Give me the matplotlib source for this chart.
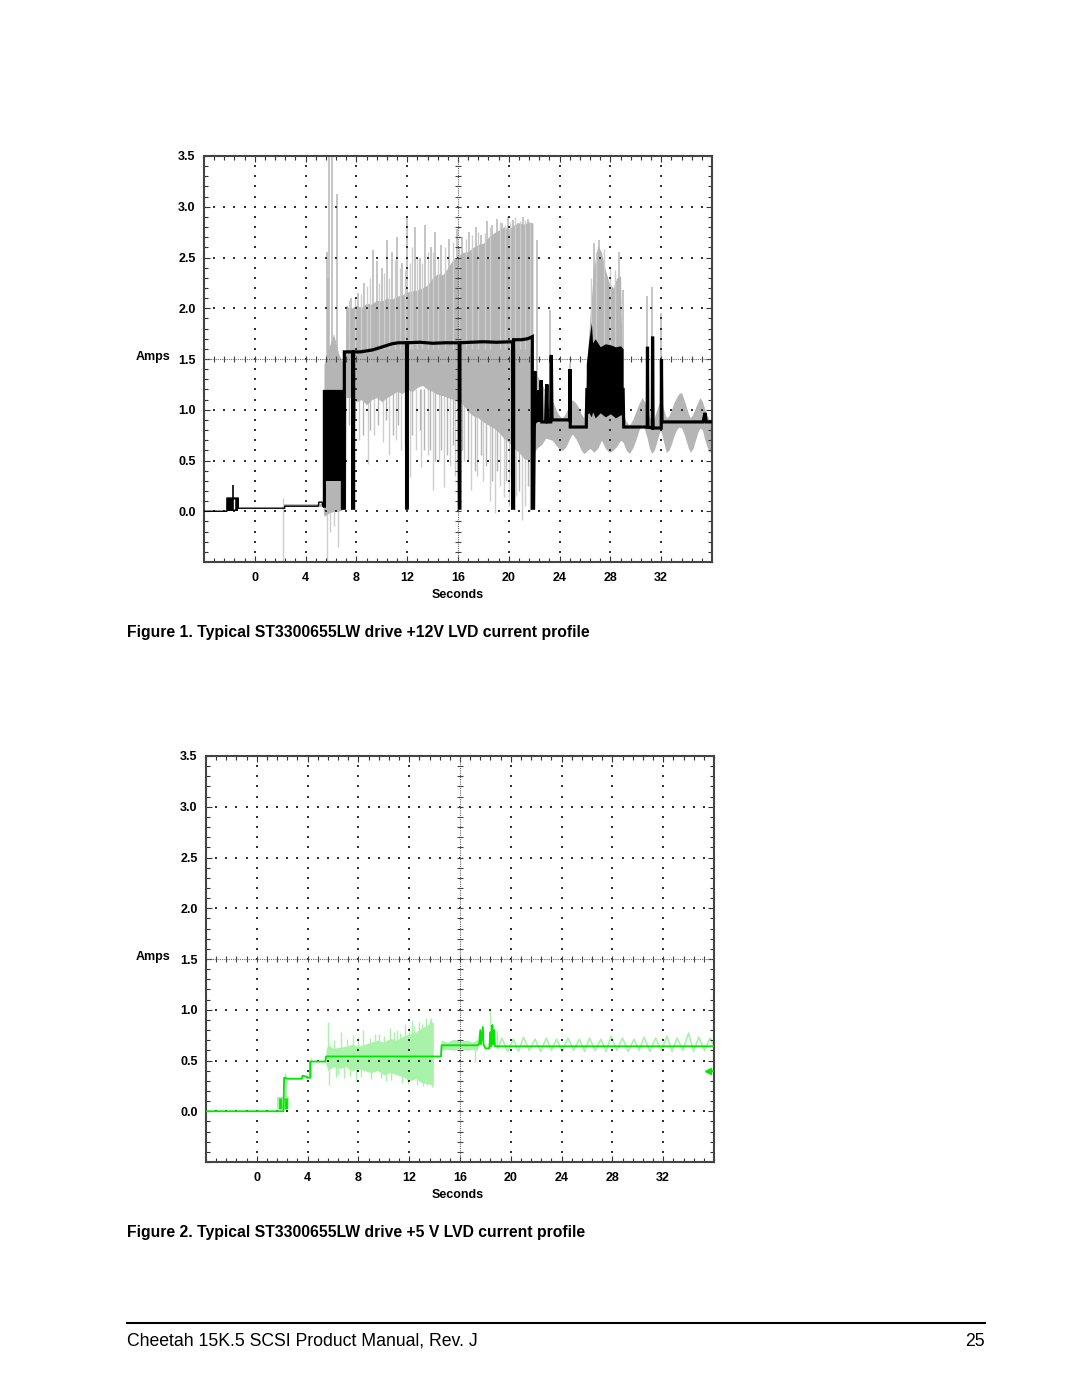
import numpy as np
import matplotlib
matplotlib.use('Agg')
import matplotlib.pyplot as plt
from matplotlib.lines import Line2D
from matplotlib.ticker import MultipleLocator

plt.rcParams['font.family'] = ['Liberation Sans', 'DejaVu Sans']

x_ticks = [0, 4, 8, 12, 16, 20, 24, 28, 32]
y_ticks = [0.0, 0.5, 1.0, 1.5, 2.0, 2.5, 3.0, 3.5]

# ---------- Figure 1: +12V current ----------
# gray noise envelope during spin-up
band_x = [5.40, 5.45, 5.8, 6.2, 6.6, 7.0, 7.15, 7.2, 7.6, 8.0, 8.4, 8.8, 9.2, 9.6, 10.0,
          10.4, 10.8, 11.2, 11.6, 12.0, 12.4, 12.8, 13.2, 13.6, 14.0, 14.4, 14.8, 15.2,
          15.6, 16.0, 16.4, 16.8, 17.2, 17.6, 18.0, 18.4, 18.8, 19.2, 19.6, 20.0, 20.4,
          20.8, 21.2, 21.6, 21.9]
band_lo = [0.0, -0.05, -0.02, 0.0, 0.0, 0.02, 0.05, 1.12, 1.12, 1.08, 1.10, 1.05, 1.10,
           1.12, 1.08, 1.12, 1.15, 1.18, 1.16, 1.20, 1.18, 1.22, 1.24, 1.20, 1.18, 1.15,
           1.14, 1.12, 1.10, 1.08, 1.05, 0.98, 0.94, 0.92, 0.88, 0.85, 0.82, 0.78, 0.72,
           0.68, 0.62, 0.58, 0.52, 0.50, 0.50]
band_hi = [0.05, 1.45, 1.60, 1.75, 1.55, 1.45, 1.55, 2.02, 2.00, 2.03, 2.01, 2.05, 2.04,
           2.08, 2.07, 2.10, 2.09, 2.12, 2.13, 2.16, 2.17, 2.18, 2.20, 2.23, 2.30, 2.34,
           2.33, 2.40, 2.48, 2.52, 2.55, 2.56, 2.60, 2.63, 2.64, 2.70, 2.74, 2.77, 2.80,
           2.78, 2.82, 2.84, 2.83, 2.85, 2.84]

# gray envelope after spin-up (seek / oscillation)
tail_x = [21.9, 22.2, 22.6, 22.9, 23.4, 23.6, 23.8, 24.0, 24.2, 24.4, 24.6, 24.8, 25.0,
          25.25, 25.5, 25.7, 25.9, 26.05, 26.2, 26.4, 26.7, 27.0, 27.3, 27.6, 27.9, 28.2,
          28.5, 28.8, 29.0, 29.25, 29.5, 29.75, 30.0, 30.25, 30.5, 30.7, 30.9, 31.05,
          31.25, 31.45, 31.6, 31.8, 31.95, 32.2, 32.4, 32.6, 32.8, 33.0, 33.2, 33.4, 33.6,
          33.8, 34.0, 34.15, 34.3, 34.5, 34.7, 34.9, 35.05, 35.25, 35.4, 35.6, 35.8, 36.0]
tail_lo = [0.55, 0.62, 0.66, 0.72, 0.70, 0.67, 0.64, 0.61, 0.60, 0.62, 0.66, 0.72, 0.76,
           0.72, 0.66, 0.60, 0.57, 0.58, 0.60, 0.62, 0.58, 0.62, 0.70, 0.62, 0.58, 0.60,
           0.64, 0.70, 0.68, 0.60, 0.57, 0.62, 0.70, 0.80, 0.86, 0.80, 0.72, 0.63,
           0.57, 0.60, 0.66, 0.75, 0.80, 0.68, 0.58, 0.60, 0.66, 0.74, 0.80, 0.83, 0.82,
           0.76, 0.68, 0.62, 0.58, 0.62, 0.70, 0.78, 0.82, 0.80, 0.72, 0.64, 0.58, 0.60]
tail_hi = [1.40, 1.35, 1.25, 1.18, 1.10, 1.04, 0.98, 0.94, 0.92, 0.95, 1.00, 1.06, 1.10,
           1.07, 1.02, 0.96, 0.92, 1.20, 1.55, 1.95, 2.40, 2.62, 2.55, 2.38, 2.25, 2.20,
           2.30, 2.32, 0.95, 0.88, 0.85, 0.90, 0.98, 1.06, 1.12, 1.08, 1.02, 0.94,
           0.88, 0.92, 0.98, 1.05, 1.10, 1.00, 0.92, 0.94, 1.00, 1.07, 1.12, 1.16, 1.17,
           1.10, 1.02, 0.96, 0.92, 0.96, 1.02, 1.08, 1.12, 1.08, 1.02, 0.95, 0.90, 0.92]

# upward gray spikes
spk_x = [5.66, 5.84, 6.05, 6.45, 5.75, 7.25, 7.6, 8.1, 8.6, 9.33, 9.6, 10.0, 10.4, 10.8,
         11.2, 11.6, 12.0, 12.6, 13.0, 13.4, 13.9, 14.2, 14.7, 15.3, 15.9, 16.3, 16.9,
         17.4, 17.8, 18.3, 18.7, 19.1, 19.5, 19.9, 20.3, 20.7, 21.1, 21.5, 22.2, 23.25,
         24.8, 26.7, 27.1, 28.7, 29.0, 30.9, 31.3, 32.0]
spk_lo = [1.2, 1.2, 1.2, 1.2, 1.2, 1.4, 1.4, 1.4, 1.4, 1.4, 1.4, 1.4, 1.4, 1.4, 1.4, 1.4,
          1.4, 1.4, 1.4, 1.4, 1.4, 1.4, 1.4, 1.4, 1.4, 1.4, 1.4, 1.4, 1.4, 1.4, 1.4, 1.4,
          1.4, 1.4, 1.4, 1.4, 1.4, 1.4, 1.2, 1.0, 0.9, 2.0, 2.0, 2.0, 0.8, 0.85, 0.85, 0.85]
spk_hi = [2.55, 3.50, 3.49, 3.13, 2.30, 2.02, 2.10, 2.15, 2.25, 2.57, 2.47, 2.40, 2.67,
          2.55, 2.70, 2.45, 2.89, 2.80, 2.50, 2.82, 2.60, 2.75, 2.62, 2.68, 2.78, 2.70,
          2.75, 2.80, 2.72, 2.86, 2.82, 2.88, 2.84, 2.90, 2.87, 2.84, 2.90, 2.88, 2.67,
          1.98, 1.46, 2.64, 2.67, 2.55, 2.18, 2.12, 2.21, 1.95]

# finer upward spikes (texture on top edge)
fine_x = [7.4, 7.9, 8.35, 8.8, 9.1, 9.8, 10.2, 10.6, 11.0, 11.4, 11.8, 12.2, 12.4, 12.8,
          13.2, 13.6, 14.0, 14.4, 15.0, 15.6, 16.1, 16.6, 17.1, 17.6, 18.1, 18.5, 19.3,
          19.7, 20.1, 20.5, 20.9, 21.3, 21.7, 26.5, 26.9, 27.5, 28.0, 28.4]
fine_hi = [2.08, 2.10, 2.14, 2.22, 2.30, 2.25, 2.35, 2.30, 2.48, 2.40, 2.38, 2.45, 2.60,
           2.50, 2.45, 2.55, 2.55, 2.50, 2.60, 2.65, 2.60, 2.68, 2.72, 2.75, 2.74, 2.80,
           2.85, 2.82, 2.85, 2.90, 2.86, 2.87, 2.85, 2.30, 2.55, 2.58, 2.42, 2.38]

# downward light-gray spikes
dn_x = [5.7, 5.95, 6.25, 6.55, 8.2, 8.9, 9.4, 10.1, 10.6, 11.1, 11.5, 12.2, 12.7, 13.1,
        13.6, 14.0, 14.5, 14.9, 15.4, 15.8, 16.5, 17.0, 17.5, 18.0, 18.5, 18.9, 19.3,
        19.6, 20.0, 20.6, 21.0, 21.3, 21.7, 2.25]
dn_lo = [-0.50, -0.20, -0.15, -0.35, 0.70, 0.47, 0.75, 0.68, 0.55, 0.70, 0.60, 0.34, 0.60,
         0.44, 0.55, 0.21, 0.50, 0.24, 0.45, 0.35, 0.50, 0.21, 0.35, 0.30, 0.10, -0.02,
         0.25, 0.14, 0.05, 0.15, -0.09, 0.05, 0.00, -0.50]
dn_hi = [0.1, 0.1, 0.1, 0.1, 1.2, 1.2, 1.2, 1.2, 1.2, 1.2, 1.2, 1.2, 1.2, 1.2, 1.2, 1.2,
         1.2, 1.2, 1.2, 1.2, 1.1, 1.0, 1.0, 0.9, 0.9, 0.9, 0.8, 0.8, 0.7, 0.7, 0.6, 0.6,
         0.6, 0.13]

# medium-gray downward spikes (ragged lower edge)
dn2_x = [7.4, 7.9, 8.5, 9.1, 9.7, 10.3, 10.9, 11.3, 11.8, 12.4, 13.0, 13.3, 13.8, 14.2,
         14.7, 15.1, 15.6, 16.0, 16.3, 16.8, 17.3, 17.8, 18.2, 18.7, 19.1, 19.8, 20.2,
         20.8, 21.5]
dn2_lo = [0.85, 0.90, 0.75, 0.80, 0.85, 0.90, 0.75, 0.85, 0.65, 0.75, 0.80, 0.60, 0.60,
          0.50, 0.60, 0.55, 0.65, 0.40, 0.60, 0.50, 0.40, 0.55, 0.45, 0.30, 0.40, 0.30,
          0.35, 0.20, 0.25]

# black averaged trace: idle part (thin)
idle_x = [-4.0, -2.2, -2.2, -1.3, -1.3, 2.35, 2.35, 5.0, 5.05, 5.3, 5.35, 5.48]
idle_y = [0.0, 0.0, 0.13, 0.13, 0.03, 0.03, 0.05, 0.05, 0.09, 0.09, 0.05, 0.05]
idle_box = [-2.2, -1.3, 0.0, 0.13]

# black averaged trace: spin-up and seeks (thick)
trace_x = [5.48, 5.48, 6.9, 6.9, 7.05, 7.05, 7.7, 7.7, 7.78, 7.78, 8.3, 8.8, 9.3, 9.8,
           10.3, 10.8, 11.3, 11.95, 11.95, 12.0, 12.0, 13.0, 14.0, 15.0, 16.1, 16.1,
           16.15, 16.15, 17.0, 18.0, 19.0, 20.3, 20.3, 20.38, 20.38, 21.0, 21.5, 21.85,
           21.85, 21.95, 22.05, 22.1, 22.3, 22.35, 22.4, 22.55, 22.6, 22.9, 23.0, 23.05,
           23.3, 23.35, 23.4, 24.8, 24.82, 24.84, 26.1, 26.15, 29.0, 29.05, 30.9, 30.92,
           30.95, 31.3, 31.32, 31.36, 32.0, 32.02, 32.06, 35.3, 35.45, 35.55, 36.0]
trace_y = [0.05, 1.18, 1.18, 0.03, 0.03, 1.57, 1.57, 0.03, 0.03, 1.57, 1.57, 1.58, 1.59,
           1.61, 1.63, 1.65, 1.66, 1.66, 0.03, 0.03, 1.66, 1.665, 1.655, 1.66, 1.66, 0.03,
           0.03, 1.66, 1.665, 1.67, 1.665, 1.67, 0.03, 0.03, 1.69, 1.69, 1.70, 1.72,
           0.03, 0.03, 1.38, 0.88, 0.90, 1.19, 0.88, 1.29, 0.88, 0.88, 1.25, 0.88,
           0.88, 1.54, 0.90, 0.90, 1.40, 0.83, 0.83, 1.20, 1.20, 0.83, 0.83, 1.62,
           0.83, 0.82, 1.72, 0.82, 0.82, 1.50, 0.88, 0.88, 0.97, 0.88, 0.88]

# dense black bursts (filled)
burst1_x = [5.48, 6.9]
burst1_lo = [0.30, 0.30]
burst1_hi = [1.18, 1.18]
burst2_x = [26.1, 26.3, 26.5, 26.6, 26.8, 27.2, 27.6, 28.0, 28.4, 28.8, 29.0]
burst2_lo = [0.95, 0.97, 0.93, 0.98, 0.92, 0.97, 0.93, 0.96, 0.92, 0.95, 0.95]
burst2_hi = [1.45, 1.68, 1.86, 1.66, 1.70, 1.62, 1.65, 1.64, 1.62, 1.63, 1.60]

# ---------- Figure 2: +5V current ----------
g_x = [-4.0, 2.1, 2.15, 2.45, 3.55, 3.6, 3.95, 3.95, 4.2, 4.2, 5.4, 5.45, 14.5, 14.55,
       17.4, 17.5, 17.6, 17.65, 17.8, 17.85, 18.0, 18.3, 18.4, 18.45, 18.55, 18.6, 18.7,
       18.75, 19.0, 36.0]
g_y = [0.0, 0.0, 0.33, 0.32, 0.32, 0.35, 0.34, 0.33, 0.33, 0.49, 0.49, 0.54, 0.54, 0.65,
       0.65, 0.66, 0.80, 0.66, 0.83, 0.66, 0.62, 0.62, 0.78, 0.64, 0.85, 0.66, 0.80, 0.64,
       0.64, 0.64]
g_box = [1.57, 2.56, 0.02, 0.14]
g_box_bars = [1.85, 2.3]

lg_x = [5.45, 5.6, 6.0, 6.5, 7.0, 7.5, 8.0, 8.5, 9.0, 9.5, 10.0, 10.5, 11.0, 11.5, 12.0,
        12.5, 13.0, 13.5, 13.9]
lg_lo = [0.46, 0.40, 0.44, 0.42, 0.44, 0.40, 0.42, 0.40, 0.38, 0.40, 0.36, 0.38, 0.36,
         0.34, 0.30, 0.32, 0.28, 0.27, 0.26]
lg_hi = [0.60, 0.66, 0.62, 0.63, 0.64, 0.66, 0.64, 0.66, 0.68, 0.70, 0.68, 0.72, 0.70,
         0.74, 0.76, 0.78, 0.82, 0.86, 0.88]
lg2_x = [14.5, 15.0, 15.5, 16.0, 16.5, 17.0, 17.4]
lg2_lo = [0.60, 0.61, 0.60, 0.62, 0.60, 0.61, 0.60]
lg2_hi = [0.70, 0.68, 0.71, 0.69, 0.70, 0.68, 0.71]

lgs_x = [5.6, 6.6, 7.6, 8.4, 9.6, 10.5, 11.0, 11.7, 12.2, 12.8, 13.3, 13.7,
         5.7, 6.2, 6.9, 7.8, 9.0, 10.2, 11.4, 12.6, 13.4, 2.2, 2.3, 4.25, 17.2, 18.4, 18.9,
         6.1, 7.1, 8.0, 8.9, 9.3, 10.0, 10.8, 11.3, 12.0, 12.4, 13.0, 13.6,
         6.4, 7.3, 8.2, 9.8, 10.6, 11.9, 13.1, 13.8]
lgs_lo = [0.5, 0.5, 0.5, 0.5, 0.5, 0.5, 0.5, 0.5, 0.5, 0.5, 0.5, 0.5,
          0.26, 0.34, 0.33, 0.30, 0.32, 0.30, 0.28, 0.26, 0.26, 0.14, 0.14, 0.33, 0.49, 0.62, 0.62,
          0.5, 0.5, 0.5, 0.5, 0.5, 0.5, 0.5, 0.5, 0.5, 0.5, 0.5, 0.5,
          0.36, 0.35, 0.34, 0.33, 0.31, 0.27, 0.25, 0.24]
lgs_hi = [0.88, 0.78, 0.75, 0.80, 0.76, 0.82, 0.80, 0.86, 0.90, 0.88, 0.92, 0.92,
          0.5, 0.5, 0.5, 0.5, 0.5, 0.5, 0.5, 0.5, 0.5, 0.38, 0.36, 0.52, 0.65, 1.00, 0.80,
          0.70, 0.71, 0.73, 0.72, 0.76, 0.74, 0.78, 0.77, 0.82, 0.84, 0.86, 0.90,
          0.5, 0.5, 0.5, 0.5, 0.5, 0.5, 0.5, 0.5]

saw_x = [19.0, 19.3, 19.75, 20.2, 20.6, 21.0, 21.45, 21.9, 22.35, 22.8, 23.2, 23.6, 24.05,
         24.5, 24.95, 25.4, 25.8, 26.2, 26.65, 27.1, 27.5, 27.9, 28.35, 28.8, 29.25, 29.7,
         30.1, 30.5, 30.95, 31.4, 31.85, 32.3, 32.7, 33.1, 33.55, 34.0, 34.4, 34.8, 35.25,
         35.7, 36.0]
saw_y = [0.62, 0.72, 0.59, 0.71, 0.59, 0.73, 0.60, 0.71, 0.59, 0.72, 0.60, 0.71, 0.59,
         0.72, 0.60, 0.71, 0.59, 0.72, 0.60, 0.71, 0.59, 0.74, 0.60, 0.72, 0.59, 0.71,
         0.60, 0.73, 0.59, 0.72, 0.60, 0.74, 0.59, 0.72, 0.60, 0.77, 0.59, 0.73, 0.60,
         0.72, 0.64]

marker_xy = (35.5, 0.40)

GRAY = '#b5b5b5'
LGRAY = '#cdcdcd'
GREEN = '#00e600'
LGREEN = '#a9f2a9'


def scope_axes(ax):
    ax.set_xlim(-4, 36)
    ax.set_ylim(-0.5, 3.5)
    ax.set_xticks(x_ticks)
    ax.set_xticklabels([str(t) for t in x_ticks], fontsize=9, fontweight='bold')
    ax.set_yticks(y_ticks)
    ax.set_yticklabels([f'{t:.1f}' for t in y_ticks], fontsize=9, fontweight='bold')
    ax.xaxis.set_minor_locator(MultipleLocator(0.8))
    ax.yaxis.set_minor_locator(MultipleLocator(0.1))
    ax.tick_params(which='both', direction='in', top=True, right=True,
                   color='#333333', width=0.8)
    ax.tick_params(which='major', length=4)
    ax.tick_params(which='minor', length=3)
    ax.tick_params(axis='x', pad=7)
    ax.tick_params(axis='y', pad=6)
    for s in ax.spines.values():
        s.set_linewidth(1.5)
        s.set_color('#444444')

    xs = np.arange(-3.2, 35.3, 0.8)
    ys = np.arange(-0.4, 3.45, 0.1)
    for gx in [0, 4, 8, 12, 20, 24, 28, 32]:
        ax.scatter(np.full(len(ys), gx), ys, s=1.6, marker='s', c='#333333',
                   linewidths=0, zorder=2)
    for gy in [0.0, 0.5, 1.0, 2.0, 2.5, 3.0]:
        ax.scatter(xs, np.full(len(xs), gy), s=1.6, marker='s', c='#333333',
                   linewidths=0, zorder=2)
    # centre cross lines
    ax.axhline(1.5, ls=(0, (1, 1)), lw=0.8, color='#666666', zorder=2)
    ax.axvline(16, ls=(0, (1, 1)), lw=0.8, color='#666666', zorder=2)
    ax.plot(xs, np.full(len(xs), 1.5), ls='none', marker='|', ms=4,
            mew=0.8, color='#444444', zorder=2)
    ax.plot(np.full(len(ys), 16), ys, ls='none', marker='_', ms=4,
            mew=0.8, color='#444444', zorder=2)


fig = plt.figure(figsize=(10.8, 13.97), dpi=100)
ax1 = fig.add_axes([204 / 1080, 1 - 562 / 1397, 508 / 1080, 406 / 1397])
ax2 = fig.add_axes([206 / 1080, 1 - 1162 / 1397, 508 / 1080, 406 / 1397])

# --- chart 1 ---
scope_axes(ax1)
ax1.vlines(dn_x, dn_lo, dn_hi, color=LGRAY, lw=1.0, zorder=1)
ax1.vlines(dn2_x, dn2_lo, 1.2, color=GRAY, lw=1.0, zorder=1)
ax1.fill_between(band_x, band_lo, band_hi, color=GRAY, lw=0, zorder=1)
ax1.fill_between(tail_x, tail_lo, tail_hi, color=GRAY, lw=0, zorder=1)
ax1.vlines(spk_x, spk_lo, spk_hi, color=GRAY, lw=1.1, zorder=1)
ax1.vlines(fine_x, 1.6, fine_hi, color=LGRAY, lw=1.0, zorder=1)
ax1.plot([2.35, 5.4], [0.065, 0.065], color=GRAY, lw=2.0, zorder=1)
ax1.plot(idle_x, idle_y, color='black', lw=1.0, zorder=3)
ax1.fill_between(idle_box[:2], idle_box[2], idle_box[3], color='black', lw=0, zorder=3)
ax1.vlines([-1.65], 0.02, 0.12, color='white', lw=1.0, zorder=3)
ax1.vlines([-1.74], 0.13, 0.26, color='black', lw=1.2, zorder=3)
ax1.fill_between(burst1_x, burst1_lo, burst1_hi, color='black', lw=0, zorder=3)
ax1.fill_between(burst2_x, burst2_lo, burst2_hi, color='black', lw=0, zorder=3)
ax1.plot(trace_x, trace_y, color='black', lw=2.3, zorder=3, solid_joinstyle='miter')

# --- chart 2 ---
scope_axes(ax2)
ax2.fill_between(lg_x, lg_lo, lg_hi, color=LGREEN, lw=0, zorder=1)
ax2.fill_between(lg2_x, lg2_lo, lg2_hi, color=LGREEN, lw=0, zorder=1)
ax2.vlines(lgs_x, lgs_lo, lgs_hi, color=LGREEN, lw=1.0, zorder=1)
ax2.plot(saw_x, saw_y, color=LGREEN, lw=1.2, zorder=1)
ax2.fill_between(g_box[:2], g_box[2], g_box[3], color=LGREEN, lw=0, zorder=1)
ax2.vlines(g_box_bars, g_box[2], g_box[3] - 0.01, color=GREEN, lw=2.0, zorder=3)
ax2.plot(g_x, g_y, color=GREEN, lw=1.3, zorder=3)
ax2.plot([marker_xy[0]], [marker_xy[1]], marker='<', ms=5, color=GREEN, zorder=4)
ax2.plot([marker_xy[0], 36], [marker_xy[1], marker_xy[1]], color=GREEN, lw=1.2, zorder=4)

# axis words
for yy in (357, 957):
    fig.text(136 / 1080, 1 - yy / 1397, 'Amps', ha='left', va='center',
             fontsize=9, fontweight='bold')
for yy in (595, 1195):
    fig.text(458 / 1080, 1 - yy / 1397, 'Seconds', ha='center', va='center',
             fontsize=9, fontweight='bold')

fig.text(127 / 1080, 1 - 633 / 1397,
         'Figure 1. Typical ST3300655LW drive +12V LVD current profile',
         ha='left', va='center', fontsize=11.3, fontweight='bold')
fig.text(127 / 1080, 1 - 1232 / 1397,
         'Figure 2. Typical ST3300655LW drive +5 V LVD current profile',
         ha='left', va='center', fontsize=11.3, fontweight='bold')

fig.add_artist(Line2D([127 / 1080, 985 / 1080], [1 - 1323 / 1397, 1 - 1323 / 1397],
                      color='black', lw=1.5))
fig.text(127 / 1080, 1 - 1341 / 1397, 'Cheetah 15K.5 SCSI Product Manual, Rev. J',
         ha='left', va='center', fontsize=12.7)
fig.text(985 / 1080, 1 - 1341 / 1397, '25', ha='right', va='center', fontsize=12.7)

fig.savefig('out.png', dpi=100)
